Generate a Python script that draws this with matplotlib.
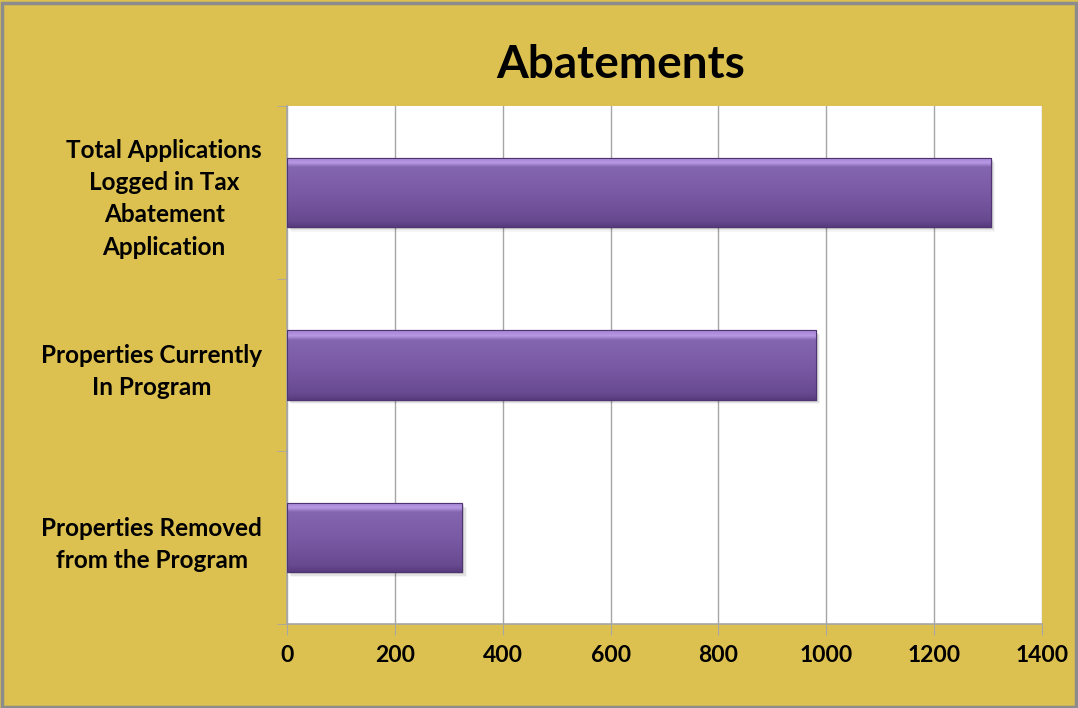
import numpy as np
import matplotlib
matplotlib.use("Agg")
from matplotlib import pyplot as plt
from matplotlib.colors import LinearSegmentedColormap
from matplotlib.patches import Rectangle

plt.rcParams["font.family"] = ["Lato", "DejaVu Sans"]
plt.rcParams["font.weight"] = "bold"

# data (bottom to top)
categories = [
    "Properties Removed\nfrom the Program",
    "Properties Currently\nIn Program",
    "Total Applications\nLogged in Tax\nAbatement\nApplication",
]
values = [325, 980, 1305]
x_ticks = [0, 200, 400, 600, 800, 1000, 1200, 1400]

gold = "#DDC150"
grid_gray = "#A6A6A6"

fig = plt.figure(figsize=(10.78, 7.08), dpi=100, facecolor=gold)
ax = fig.add_axes([287 / 1078, 1 - 624 / 708, 755 / 1078, 518 / 708])
ax.set_facecolor("white")

y = np.arange(len(categories))
bar_h = 0.4
bars = ax.barh(y, values, height=bar_h, color="#7D5BA6", edgecolor="#4E3470",
               linewidth=0.8, zorder=3)

# bevelled gradient fill on each bar
bevel = LinearSegmentedColormap.from_list(
    "bevel", [(0.0, "#573C7C"), (0.10, "#684A91"), (0.5, "#7B5AA5"),
              (0.86, "#8465AF"), (0.92, "#B898E4"), (1.0, "#A283D0")])
grad = np.linspace(0, 1, 256).reshape(-1, 1)
for rect, v in zip(bars, values):
    # soft shadow under the bar
    for k, a in enumerate([0.10, 0.07, 0.04]):
        sh = Rectangle((rect.get_x() + 4 + 2 * k, rect.get_y() - 0.012 - 0.008 * k),
                       v, bar_h, facecolor="black", alpha=a, edgecolor="none", zorder=2)
        ax.add_patch(sh)
    im = ax.imshow(grad, cmap=bevel, aspect="auto", origin="lower",
                   extent=[0, v, rect.get_y(), rect.get_y() + bar_h], zorder=3.5)
    im.set_clip_path(rect)
    ax.add_patch(Rectangle((rect.get_x(), rect.get_y()), v, bar_h, facecolor="none",
                           edgecolor="#4E3470", linewidth=0.8, zorder=4))

ax.set_xlim(0, 1400)
ax.set_ylim(-0.5, len(categories) - 0.5)
ax.set_xticks(x_ticks)
ax.set_xticklabels([str(t) for t in x_ticks], fontsize=16.5, fontweight="bold")
ax.grid(axis="x", color=grid_gray, linewidth=1, zorder=1)
ax.set_axisbelow(True)

# category labels centred on bars, ticks on category boundaries
ax.set_yticks(y)
ax.set_yticklabels(categories, fontsize=17.5, fontweight="bold",
                   multialignment="center", linespacing=1.48)
ax.tick_params(axis="y", length=0, pad=18)
ax.set_yticks(np.arange(-0.5, len(categories)), minor=True)
ax.tick_params(axis="y", which="minor", length=7, color=grid_gray, direction="out")
ax.tick_params(axis="x", length=8, color=grid_gray, direction="out", pad=7)

for side in ["top", "right"]:
    ax.spines[side].set_visible(False)
for side in ["left", "bottom"]:
    ax.spines[side].set_color(grid_gray)
    ax.spines[side].set_linewidth(1.2)

fig.text(621 / 1078, 1 - 65 / 708, "Abatements", ha="center", va="center",
         fontsize=33, fontweight="bold")

# outer chart border
fig.patches.append(Rectangle((0.002, 0.002), 0.996, 0.994, transform=fig.transFigure,
                             facecolor="none", edgecolor="#8C8C8C", linewidth=2.5))

fig.savefig("out.png", dpi=100, facecolor=gold)
